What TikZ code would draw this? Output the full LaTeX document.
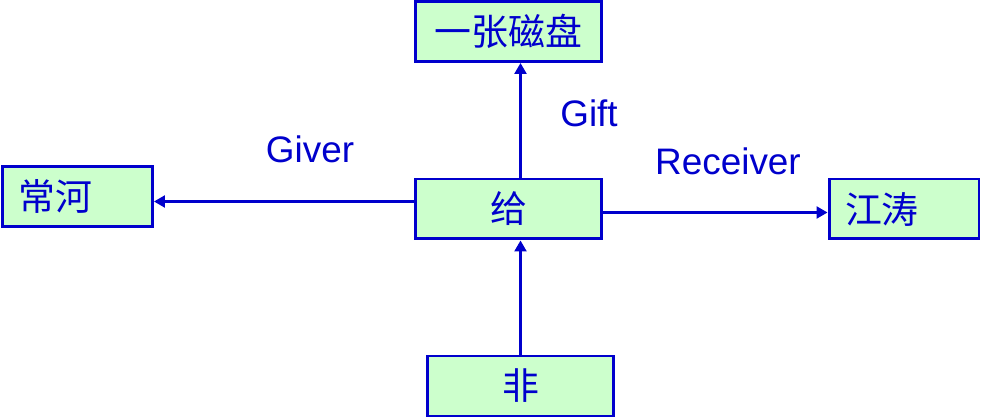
\documentclass[tikz,border=0pt]{standalone}
\usepackage{fontspec}
\setmainfont{Liberation Sans}
\newfontfamily\cjk{Noto Sans CJK SC}
\usetikzlibrary{arrows.meta}
\definecolor{lineblue}{HTML}{0000CC}
\definecolor{boxgreen}{HTML}{CCFFCC}
\begin{document}
\begin{tikzpicture}[x=0.02cm, y=-0.02cm,
    box/.style={draw=lineblue, fill=boxgreen, line width=1.7pt, text=lineblue,
      font=\cjk\fontsize{21pt}{24pt}\selectfont, minimum width=3.72cm, minimum height=1.2cm, inner sep=0pt},
    leftbox/.style={box, minimum width=3cm, text width=2.36cm, align=left, inner xsep=0.32cm},
    role/.style={text=lineblue, font=\fontsize{21pt}{24pt}\selectfont, inner sep=0pt},
    arr/.style={draw=lineblue, line width=1.3pt, -{Triangle[length=0.22cm,width=0.24cm]}}]
      \useasboundingbox (0,0) rectangle (983,418);

      \node[box] (disk) at (508.5, 31.5){一张磁盘};
      \node[leftbox] (chang) at (77.5, 196.5){常河};
      \node[box] (gei) at (508.5, 209){给};
      \node[leftbox] (jiang) at (904, 209){江涛};
      \node[box] (fei) at (520.5, 386){非};

      \node[role] (giver) at (310, 149){Giver};
      \node[role] (gift) at (589, 113){Gift};
      \node[role] (receiver) at (728, 161){Receiver};

      \draw[arr] (gei.north -| fei.north) -- (disk.south -| fei.north);
      \draw[arr] ([yshift=0.15cm]gei.west) -- ([yshift=0.15cm]gei.west -| chang.east);
      \draw[arr] ([yshift=-0.07cm]gei.east) -- ([yshift=-0.07cm]gei.east -| jiang.west);
      \draw[arr] (fei.north) -- (gei.south -| fei.north);
    \end{tikzpicture}
\end{document}
